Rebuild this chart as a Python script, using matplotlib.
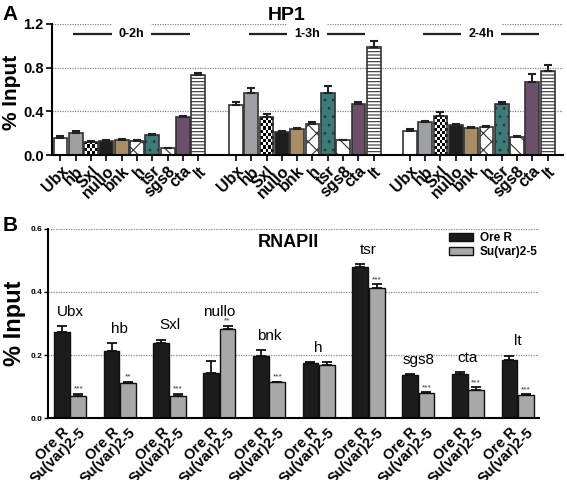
import numpy as np
import matplotlib
matplotlib.use("Agg")
import matplotlib.pyplot as plt

plt.rcParams['font.family'] = ['Liberation Sans', 'DejaVu Sans']
plt.rcParams['hatch.linewidth'] = 0.8

# panel A: HP1
genes = ["Ubx", "hb", "Sxl", "nullo", "bnk", "h", "tsr", "sgs8", "cta", "lt"]
stages = ["0-2h", "1-3h", "2-4h"]
hp1_mean = [
    [0.16, 0.20, 0.12, 0.13, 0.14, 0.13, 0.18, 0.06, 0.35, 0.73],
    [0.46, 0.565, 0.345, 0.21, 0.235, 0.285, 0.57, 0.135, 0.465, 0.99],
    [0.22, 0.30, 0.355, 0.275, 0.25, 0.255, 0.465, 0.165, 0.67, 0.77],
]
hp1_err = [
    [0.01, 0.02, 0.01, 0.01, 0.01, 0.01, 0.015, 0.005, 0.01, 0.02],
    [0.03, 0.05, 0.03, 0.01, 0.01, 0.02, 0.06, 0.005, 0.02, 0.05],
    [0.015, 0.01, 0.04, 0.005, 0.01, 0.01, 0.02, 0.01, 0.07, 0.05],
]
gene_face = ["white", "#9d9fa2", "none", "#1e1e1e", "#a88d66",
             "white", "#3d7b7b", "white", "#6b4f6b", "white"]
gene_hatch = [None, None, None, None, None, "xx", "..", "\\\\", None, "-----"]

# panel B: RNAPII
strains = ["Ore R", "Su(var)2-5"]
ore_mean = [0.272, 0.213, 0.239, 0.143, 0.198, 0.175, 0.478, 0.137, 0.140, 0.185]
ore_err = [0.02, 0.025, 0.01, 0.037, 0.018, 0.003, 0.01, 0.003, 0.005, 0.013]
suv_mean = [0.069, 0.111, 0.069, 0.283, 0.113, 0.167, 0.412, 0.078, 0.090, 0.072]
suv_err = [0.008, 0.004, 0.008, 0.01, 0.003, 0.01, 0.012, 0.004, 0.008, 0.003]
stars = ["***", "**", "***", "**", "***", "", "***", "***", "***", "***"]

fig = plt.figure(figsize=(5.67, 4.8), dpi=100)

# ---------------- A ----------------
axA = fig.add_axes([0.0917, 0.677, 0.9013, 0.273])
offsets = [0, 11.45, 22.8]
xt, xl = [], []
sxl_bars = []
for g, off in enumerate(offsets):
    x = off + np.arange(len(genes))
    bars = axA.bar(x, hp1_mean[g], 0.9, color=gene_face, edgecolor="#333333",
                   linewidth=1.2, zorder=2)
    for b, h in zip(bars, gene_hatch):
        if h:
            b.set_hatch(h)
    sxl_bars.append(bars[2])
    axA.errorbar(x, hp1_mean[g], yerr=[np.zeros(10), hp1_err[g]], fmt="none",
                 ecolor="#222222", elinewidth=1.5, capsize=3, capthick=1.5, zorder=3)
    xt += list(x)
    xl += genes
    c = off + 4.65
    axA.plot([off + 0.85, off + 8.45], [1.108, 1.108], color="#222222", lw=1.6,
             solid_capstyle="butt", zorder=3)
    axA.text(c, 1.108, stages[g], ha="center", va="center", fontsize=9,
             fontweight="bold", zorder=4,
             bbox=dict(facecolor="white", edgecolor="none", pad=5))

# checkerboard for Sxl
for b in sxl_bars:
    x0, w, h = b.get_x(), b.get_width(), b.get_height()
    rows = max(2, int(round(h * 36)))
    arr = np.indices((rows, 5)).sum(0) % 2
    im = axA.imshow(arr, cmap="gray", extent=(x0, x0 + w, 0, h), aspect="auto",
                    interpolation="nearest", zorder=1.5)
    im.set_clip_path(b)

axA.set_xlim(-0.55, 32.8)
axA.set_ylim(0, 1.2)
axA.set_yticks([0, 0.4, 0.8, 1.2])
axA.set_yticklabels(["0.0", "0.4", "0.8", "1.2"], fontsize=10.5, fontweight="bold")
axA.set_xticks(xt)
axA.set_xticklabels(xl, rotation=45, ha="right", rotation_mode="anchor",
                    fontsize=11.5, fontweight="bold")
axA.tick_params(axis="both", width=1.2, length=4, pad=2)
axA.yaxis.grid(True, linestyle=(0, (1, 1)), color="#888888", lw=0.9, zorder=0)
axA.set_axisbelow(True)
for s in ["top", "right"]:
    axA.spines[s].set_visible(False)
for s in ["left", "bottom"]:
    axA.spines[s].set_linewidth(1.5)
axA.set_ylabel("% Input", fontsize=15, fontweight="bold")
axA.yaxis.set_label_coords(-0.06, 0.48)
axA.set_title("HP1", fontsize=14, fontweight="bold", pad=3, x=0.46)

# ---------------- B ----------------
axB = fig.add_axes([0.0847, 0.129, 0.8663, 0.394])
xc = 3 * np.arange(len(genes))
axB.bar(xc - 0.5, ore_mean, 0.95, color="#1c1c1c", edgecolor="#111111",
        linewidth=1, zorder=2, label=strains[0])
axB.bar(xc + 0.5, suv_mean, 0.95, color="#a8a8a8", edgecolor="#111111",
        linewidth=1, zorder=2, label=strains[1])
axB.errorbar(xc - 0.5, ore_mean, yerr=[np.zeros(10), ore_err], fmt="none",
             ecolor="#111111", elinewidth=1.3, capsize=3.5, capthick=1.3, zorder=3)
axB.errorbar(xc + 0.5, suv_mean, yerr=[np.zeros(10), suv_err], fmt="none",
             ecolor="#111111", elinewidth=1.3, capsize=3.5, capthick=1.3, zorder=3)
for i in range(len(genes)):
    axB.text(xc[i] + 0.5, suv_mean[i] + suv_err[i] + 0.003, stars[i],
             ha="center", va="bottom", fontsize=6, color="#333333")
    top = max(ore_mean[i] + ore_err[i], suv_mean[i] + suv_err[i])
    axB.text(xc[i], top + 0.045, genes[i], ha="center", va="center", fontsize=11)

axB.set_xlim(-1.33, 28.3)
axB.set_ylim(0, 0.6)
axB.set_yticks([0, 0.2, 0.4, 0.6])
axB.set_yticklabels(["0.0", "0.2", "0.4", "0.6"], fontsize=6, fontweight="bold")
axB.set_xticks(np.concatenate([xc - 0.5, xc + 0.5]))
axB.set_xticklabels([strains[0]] * 10 + [strains[1]] * 10, rotation=45, ha="right",
                    rotation_mode="anchor", fontsize=10.5, fontweight="bold")
axB.tick_params(axis="x", length=0, pad=5)
axB.tick_params(axis="y", length=3, width=1, pad=1)
axB.yaxis.grid(True, linestyle=(0, (1, 1)), color="#888888", lw=0.9, zorder=0)
axB.set_axisbelow(True)
for s in ["top", "right"]:
    axB.spines[s].set_visible(False)
for s in ["left", "bottom"]:
    axB.spines[s].set_linewidth(1.5)
axB.set_ylabel("% Input", fontsize=17, fontweight="bold")
axB.yaxis.set_label_coords(-0.045, 0.5)
axB.text(0.49, 0.926, "RNAPII", transform=axB.transAxes, ha="center", va="center",
         fontsize=13, fontweight="bold")
axB.legend(loc="upper left", bbox_to_anchor=(0.795, 1.04), frameon=False,
           handlelength=2.0, handleheight=0.6, labelspacing=0.2, handletextpad=0.6,
           prop=dict(weight="bold", size=8.5))

fig.text(0.018, 0.97, "A", fontsize=15, fontweight="bold", va="center", ha="center")
fig.text(0.018, 0.53, "B", fontsize=15, fontweight="bold", va="center", ha="center")

fig.savefig("out.png", dpi=100)
